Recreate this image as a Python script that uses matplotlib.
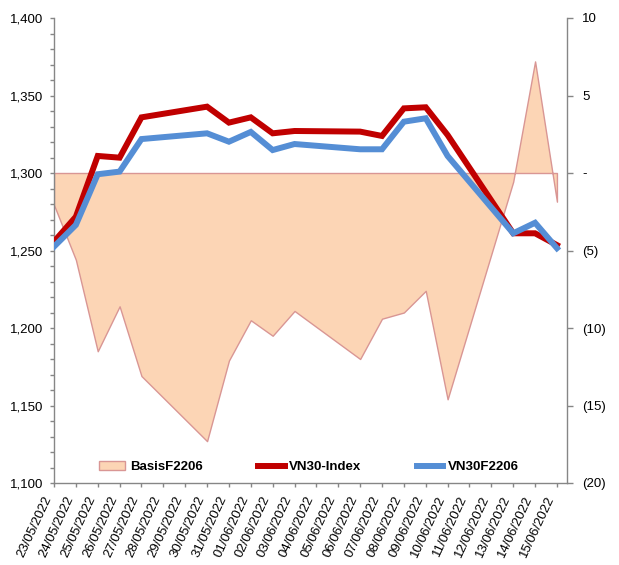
import matplotlib
matplotlib.use("Agg")
import matplotlib.pyplot as plt
from matplotlib.ticker import MultipleLocator, FuncFormatter, FixedLocator
from matplotlib.patches import Patch
from matplotlib.lines import Line2D

plt.rcParams['font.family'] = ['Liberation Sans', 'DejaVu Sans']

# calendar date labels on the axis
date_labels = ["23/05/2022", "24/05/2022", "25/05/2022", "26/05/2022", "27/05/2022",
               "28/05/2022", "29/05/2022", "30/05/2022", "31/05/2022", "01/06/2022",
               "02/06/2022", "03/06/2022", "04/06/2022", "05/06/2022", "06/06/2022",
               "07/06/2022", "08/06/2022", "09/06/2022", "10/06/2022", "11/06/2022",
               "12/06/2022", "13/06/2022", "14/06/2022", "15/06/2022"]

# trading days (index into date_labels)
trade_days = [0, 1, 2, 3, 4, 7, 8, 9, 10, 11, 14, 15, 16, 17, 18, 21, 22, 23]

vn30_index = [1255.7, 1271.8, 1311.0, 1309.9, 1335.9, 1342.8, 1332.5, 1335.9, 1325.6,
              1327.1, 1326.7, 1323.9, 1341.7, 1342.4, 1324.5, 1261.1, 1261.1, 1253.5]
vn30f2206 = [1252.5, 1266.5, 1299.2, 1300.9, 1321.9, 1325.6, 1320.2, 1326.5, 1314.8,
             1318.7, 1315.3, 1315.3, 1333.1, 1335.3, 1311.0, 1261.1, 1267.9, 1251.5]
basis = [-2.06, -5.6, -11.5, -8.6, -13.1, -17.3, -12.1, -9.5, -10.5,
         -8.9, -12.0, -9.4, -9.0, -7.6, -14.6, -0.56, 7.2, -1.85]

W, H = 619, 565
fig = plt.figure(figsize=(W / 100, H / 100), dpi=100)
ax = fig.add_axes([54 / W, 1 - 483 / H, (567 - 54) / W, (483 - 18) / H])
ax2 = ax.twinx()

red = '#C00000'
blue = '#558ED5'
fillc = '#FCD5B5'
edgec = '#D99694'
spc = '#868686'

ax2.fill_between(trade_days, 0, basis, facecolor=fillc, edgecolor=edgec, linewidth=1.0)
ax.plot(trade_days, vn30_index, color=red, lw=4.3, solid_joinstyle='miter', zorder=3)
ax.plot(trade_days, vn30f2206, color=blue, lw=4.3, solid_joinstyle='miter', zorder=4)

ax.set_zorder(ax2.get_zorder() + 1)
ax.patch.set_visible(False)

ax.set_xlim(0, 23.46)
ax.set_ylim(1100, 1400)
ax2.set_ylim(-20, 10)

ax.yaxis.set_major_locator(MultipleLocator(50))
ax.yaxis.set_minor_locator(MultipleLocator(10))
ax.yaxis.set_major_formatter(FuncFormatter(lambda v, p: f"{v:,.0f}"))
ax2.yaxis.set_major_locator(MultipleLocator(5))

def rfmt(v, p):
    if abs(v) < 1e-9:
        return "-"
    if v < 0:
        return f"({-v:.0f})"
    return f"{v:.0f}"
ax2.yaxis.set_major_formatter(FuncFormatter(rfmt))

ax.xaxis.set_major_locator(FixedLocator(list(range(len(date_labels)))))
ax.set_xticklabels(date_labels, rotation=65, ha='right', va='top')

for a in (ax, ax2):
    for s in a.spines.values():
        s.set_color(spc)
        s.set_linewidth(1.0)
    a.spines['top'].set_visible(False)
ax.spines['right'].set_visible(False)
ax2.spines['left'].set_visible(False)
ax2.spines['bottom'].set_visible(False)

ax.tick_params(axis='y', which='major', direction='out', length=3, width=1, color=spc,
               labelsize=9.5, pad=5)
ax.tick_params(axis='y', which='minor', direction='out', length=3, width=1, color=spc)
ax.tick_params(axis='x', which='major', direction='out', length=3, width=1, color=spc,
               labelsize=9.5, pad=5)
ax2.tick_params(axis='y', which='major', direction='out', length=4, width=1, color=spc,
                labelsize=9.5, pad=7)

handles = [Patch(facecolor=fillc, edgecolor=edgec, linewidth=1.0),
           Line2D([], [], color=red, lw=4.3),
           Line2D([], [], color=blue, lw=4.3)]
labels = ["BasisF2206", "VN30-Index", "VN30F2206"]
leg = ax.legend(handles, labels, loc='center', bbox_to_anchor=(0.497, 0.034), ncol=3,
                frameon=False, handlelength=2.0, handletextpad=0.35, columnspacing=4.2,
                prop={'weight': 'bold', 'size': 9.5})

fig.savefig("out.png", dpi=100)
